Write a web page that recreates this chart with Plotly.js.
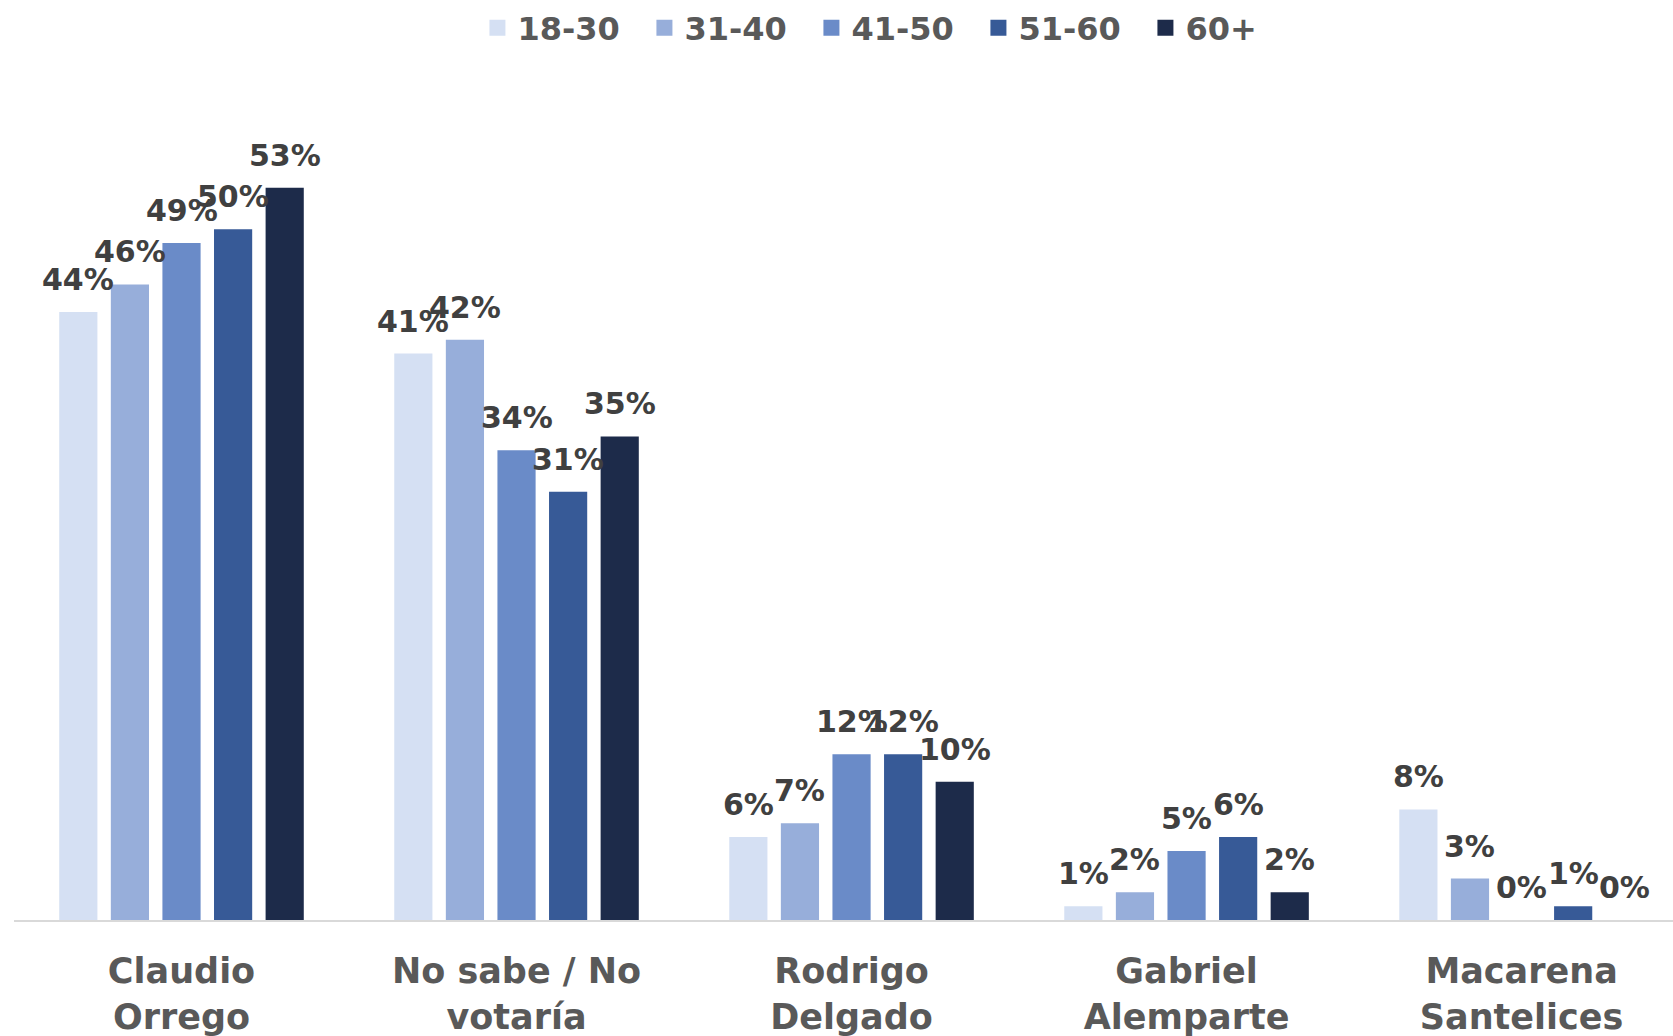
<!DOCTYPE html>
<html>
<head>
<meta charset="utf-8">
<script src="https://cdn.plot.ly/plotly-3.0.1.min.js"></script>
<style>html,body{margin:0;padding:0;background:#fff;}#chart{width:1673px;height:1036px;}</style>
</head>
<body>
<div id="chart"></div>
<script>
const categories = ["Claudio<br>Orrego", "No sabe / No<br>votaría", "Rodrigo<br>Delgado", "Gabriel<br>Alemparte", "Macarena<br>Santelices"];
const seriesNames = ["18-30", "31-40", "41-50", "51-60", "60+"];
const v18_30 = [44, 41, 6, 1, 8];
const v31_40 = [46, 42, 7, 2, 3];
const v41_50 = [49, 34, 12, 5, 0];
const v51_60 = [50, 31, 12, 6, 1];
const v60plus = [53, 35, 10, 2, 0];
const colors = ["#D5E0F3", "#97AEDA", "#6A8BC8", "#375A97", "#1D2B4A"];

const allValues = [v18_30, v31_40, v41_50, v51_60, v60plus];
const xIdx = categories.map((c, i) => i);

const BARGAP = 0.23;
const nSeries = allValues.length;
const slot = (1 - BARGAP) / nSeries;

const traces = allValues.map((vals, k) => ({
  type: 'bar',
  name: seriesNames[k],
  x: xIdx,
  y: vals,
  marker: {color: colors[k]},
  showlegend: false,
  hoverinfo: 'skip'
}));

// legend entries with larger square swatches
seriesNames.forEach((nm, k) => {
  traces.push({
    type: 'scatter',
    mode: 'markers',
    name: nm,
    x: [null],
    y: [null],
    marker: {symbol: 'square', size: 16, color: colors[k]},
    showlegend: true,
    hoverinfo: 'skip'
  });
});

const annotations = [];
allValues.forEach((vals, k) => {
  vals.forEach((v, i) => {
    annotations.push({
      x: i + (k - (nSeries - 1) / 2) * slot,
      y: v,
      xref: 'x', yref: 'y',
      text: v + '%',
      showarrow: false,
      xanchor: 'center',
      yanchor: 'bottom',
      yshift: 13,
      font: {family: 'DejaVu Sans', size: 30, color: '#404040', weight: 700}
    });
  });
});

const layout = {
  width: 1673,
  height: 1036,
  margin: {l: 14, r: 0, t: 100, b: 116},
  paper_bgcolor: '#ffffff',
  plot_bgcolor: '#ffffff',
  barmode: 'group',
  bargap: BARGAP,
  bargroupgap: 0.26,
  showlegend: true,
  annotations: annotations,
  legend: {
    orientation: 'h',
    x: 0.531, xanchor: 'center',
    y: 1.115, yanchor: 'middle',
    font: {family: 'DejaVu Sans', size: 32, color: '#595959', weight: 700},
    itemwidth: 30,
    entrywidth: 122,
    traceorder: 'normal'
  },
  xaxis: {
    range: [-0.5, 4.452],
    tickmode: 'array',
    tickvals: xIdx,
    ticktext: categories,
    showgrid: false,
    zeroline: false,
    showline: true,
    linecolor: '#D9D9D9',
    linewidth: 2,
    ticks: '',
    ticklabelstandoff: 19,
    tickfont: {family: 'DejaVu Sans', size: 35, color: '#595959', weight: 700}
  },
  yaxis: {
    range: [0, 57.9],
    visible: false,
    showgrid: false,
    zeroline: false
  },
  font: {family: 'DejaVu Sans'}
};

Plotly.newPlot('chart', traces, layout, {displayModeBar: false, staticPlot: true});
</script>
</body>
</html>
